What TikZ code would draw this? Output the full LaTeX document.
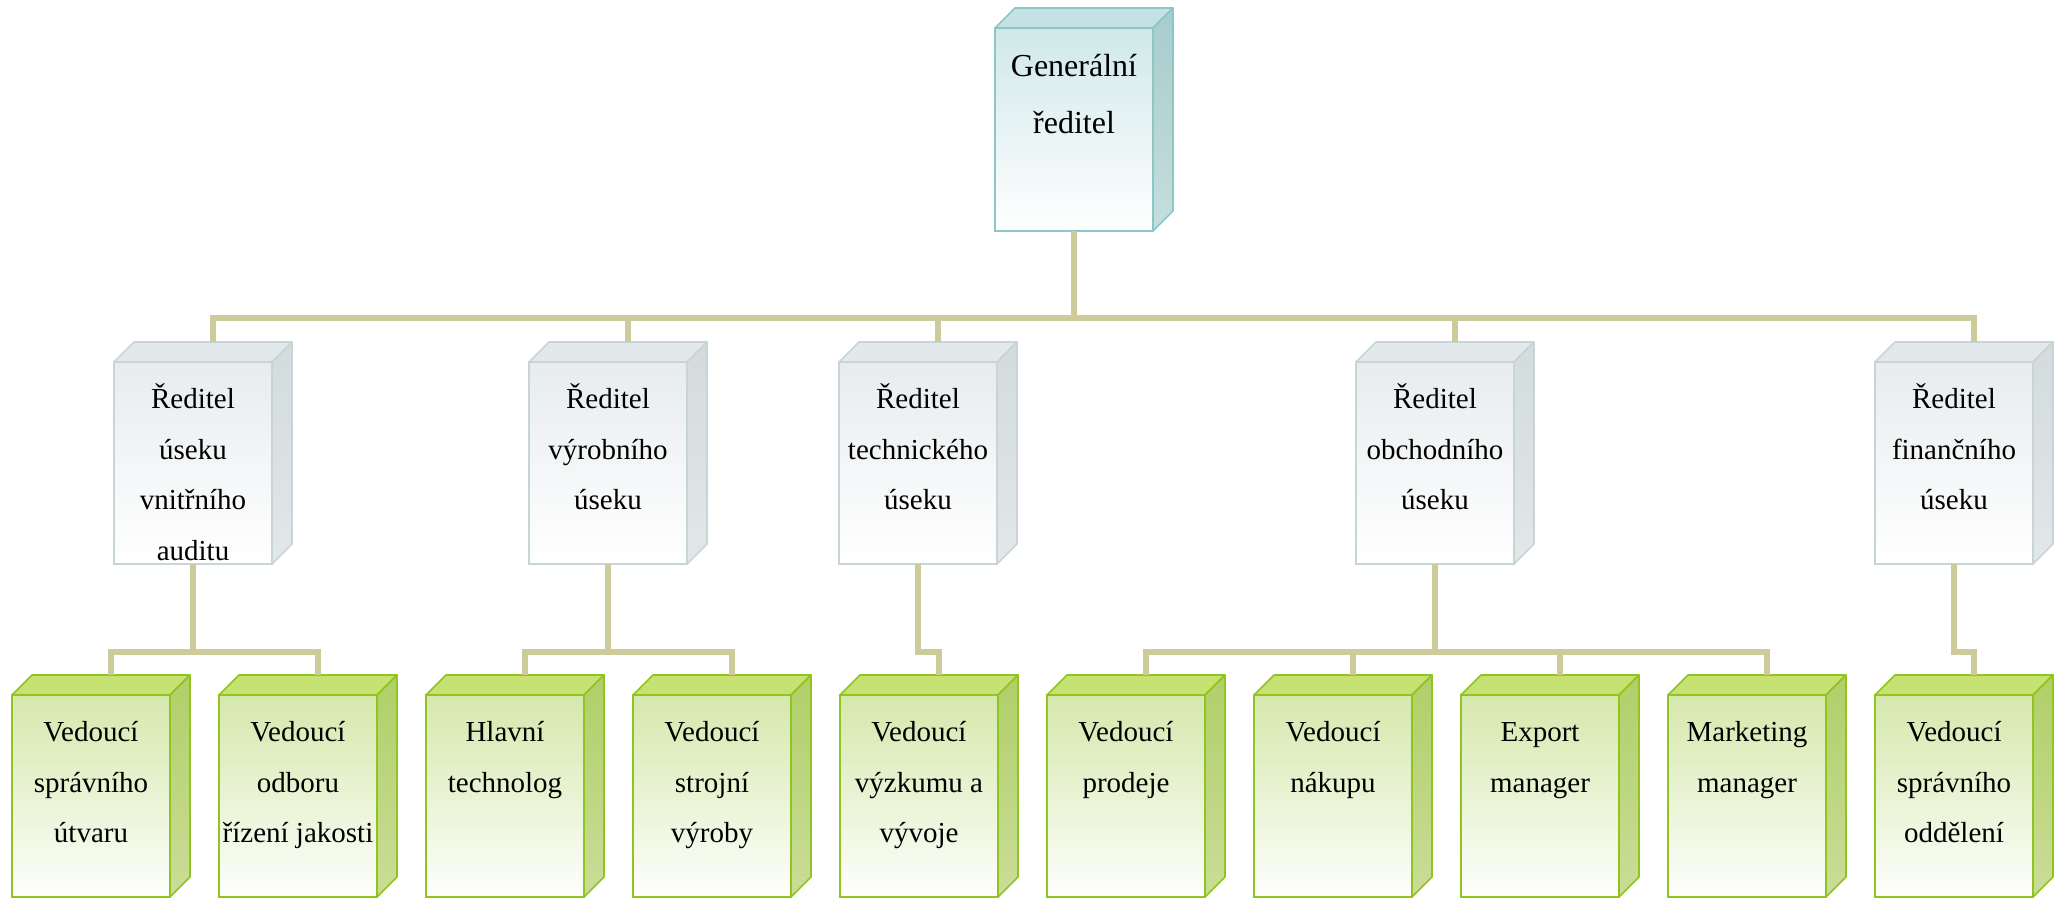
\documentclass[tikz,border=0pt]{standalone}
\usepackage{fontspec}
\setmainfont{Liberation Serif}
\usetikzlibrary{calc}
\definecolor{connc}{RGB}{206,203,155}
\definecolor{genfront}{RGB}{208,232,233}
\definecolor{gentop}{RGB}{196,226,227}
\definecolor{genside}{RGB}{168,204,204}
\definecolor{gensideb}{RGB}{198,221,221}
\definecolor{genborder}{RGB}{138,199,198}
\definecolor{grayfront}{RGB}{232,236,238}
\definecolor{graytop}{RGB}{227,232,234}
\definecolor{grayside}{RGB}{211,219,221}
\definecolor{graysideb}{RGB}{226,231,232}
\definecolor{grayborder}{RGB}{200,213,216}
\definecolor{greenfront}{RGB}{213,232,172}
\definecolor{greentop}{RGB}{198,226,114}
\definecolor{greenside}{RGB}{176,207,104}
\definecolor{greensideb}{RGB}{202,221,152}
\definecolor{greenborder}{RGB}{144,196,30}
\tikzset{
  frontbox/.style={rectangle, minimum width=79pt, minimum height=101pt, inner sep=0pt, outer sep=0pt, line width=0.8pt},
  genfrontst/.style={frontbox, minimum height=101.5pt, draw=genborder, top color=genfront, bottom color=white},
  gentopst/.style={draw=genborder, fill=gentop, line width=0.8pt, line join=round},
  gensidest/.style={draw=genborder, top color=genside, bottom color=gensideb, line width=0.8pt, line join=round},
  gentext/.style={anchor=north, inner sep=0pt, align=center, font=\fontsize{16}{28.5}\selectfont},
  grayfrontst/.style={frontbox, draw=grayborder, top color=grayfront, bottom color=white},
  graytopst/.style={draw=grayborder, fill=graytop, line width=0.8pt, line join=round},
  graysidest/.style={draw=grayborder, top color=grayside, bottom color=graysideb, line width=0.8pt, line join=round},
  graytext/.style={anchor=north, inner sep=0pt, align=center, font=\fontsize{14.5}{25.3}\selectfont},
  greenfrontst/.style={frontbox, draw=greenborder, top color=greenfront, bottom color=white!97!greenfront},
  greentopst/.style={draw=greenborder, fill=greentop, line width=0.8pt, line join=round},
  greensidest/.style={draw=greenborder, top color=greenside, bottom color=greensideb, line width=0.8pt, line join=round},
  greentext/.style={anchor=north, inner sep=0pt, align=center, font=\fontsize{14.5}{25.3}\selectfont},
  conn/.style={draw=connc, line width=2.85pt, line join=miter}
}
% #1 name, #2 x, #3 y, #4 kind, #5 text shift, #6 text
\newcommand\mkcube[6]{%
  \node[#4frontst] (#1) at (#2,#3) {};
  \draw[#4topst] (#1.north west) -- ++(20,-20) -- ($(#1.north east)+(20,-20)$) -- (#1.north east) -- cycle;
  \draw[#4sidest] (#1.north east) -- ++(20,-20) -- ($(#1.south east)+(20,-20)$) -- (#1.south east) -- cycle;
  \node[#4text] (#1t) at ($(#1.north)+(0,#5)$) {\rule{0pt}{20pt}#6};
  \coordinate (#1a) at ($(#1.north)+(20,-20)$);
}
\begin{document}
\begin{tikzpicture}[x=0.5pt,y=-0.5pt]
\useasboundingbox (0,0) rectangle (2062,899);
\fill[white] (0,0) rectangle (2062,899);
\coordinate (bus) at (0,318);
\coordinate (sub) at (0,652);

\mkcube{gen}{1074}{129.5}{gen}{8}{Generální\\ředitel}

\mkcube{r1}{193}{463}{gray}{6}{Ředitel\\úseku\\vnitřního\\auditu}
\mkcube{r2}{608}{463}{gray}{6}{Ředitel\\výrobního\\úseku}
\mkcube{r3}{918}{463}{gray}{6}{Ředitel\\technického\\úseku}
\mkcube{r4}{1435}{463}{gray}{6}{Ředitel\\obchodního\\úseku}
\mkcube{r5}{1954}{463}{gray}{6}{Ředitel\\finančního\\úseku}

\mkcube{v1}{91}{796}{green}{6}{Vedoucí\\správního\\útvaru}
\mkcube{v2}{298}{796}{green}{6}{Vedoucí\\odboru\\řízení jakosti}
\mkcube{v3}{505}{796}{green}{6}{Hlavní\\technolog}
\mkcube{v4}{712}{796}{green}{6}{Vedoucí\\strojní\\výroby}
\mkcube{v5}{919}{796}{green}{6}{Vedoucí\\výzkumu a\\vývoje}
\mkcube{v6}{1126}{796}{green}{6}{Vedoucí\\prodeje}
\mkcube{v7}{1333}{796}{green}{6}{Vedoucí\\nákupu}
\mkcube{v8}{1540}{796}{green}{6}{Export\\manager}
\mkcube{v9}{1747}{796}{green}{6}{Marketing\\manager}
\mkcube{v10}{1954}{796}{green}{6}{Vedoucí\\správního\\oddělení}

% top level
\draw[conn] (gen.south) -- (gen.south |- bus);
\draw[conn] (r1a) -- (r1a |- bus) -- (r5a |- bus) -- (r5a);
\draw[conn] (r2a |- bus) -- (r2a);
\draw[conn] (r3a |- bus) -- (r3a);
\draw[conn] (r4a |- bus) -- (r4a);

% group 1
\draw[conn] (r1.south) -- (r1.south |- sub);
\draw[conn] (v1a) -- (v1a |- sub) -- (v2a |- sub) -- (v2a);
% group 2
\draw[conn] (r2.south) -- (r2.south |- sub);
\draw[conn] (v3a) -- (v3a |- sub) -- (v4a |- sub) -- (v4a);
% group 3
\draw[conn] (r3.south) -- (r3.south |- sub) -- (v5a |- sub) -- (v5a);
% group 4
\draw[conn] (r4.south) -- (r4.south |- sub);
\draw[conn] (v6a) -- (v6a |- sub) -- (v9a |- sub) -- (v9a);
\draw[conn] (v7a |- sub) -- (v7a);
\draw[conn] (v8a |- sub) -- (v8a);
% group 5
\draw[conn] (r5.south) -- (r5.south |- sub) -- (v10a |- sub) -- (v10a);
\end{tikzpicture}
\end{document}
